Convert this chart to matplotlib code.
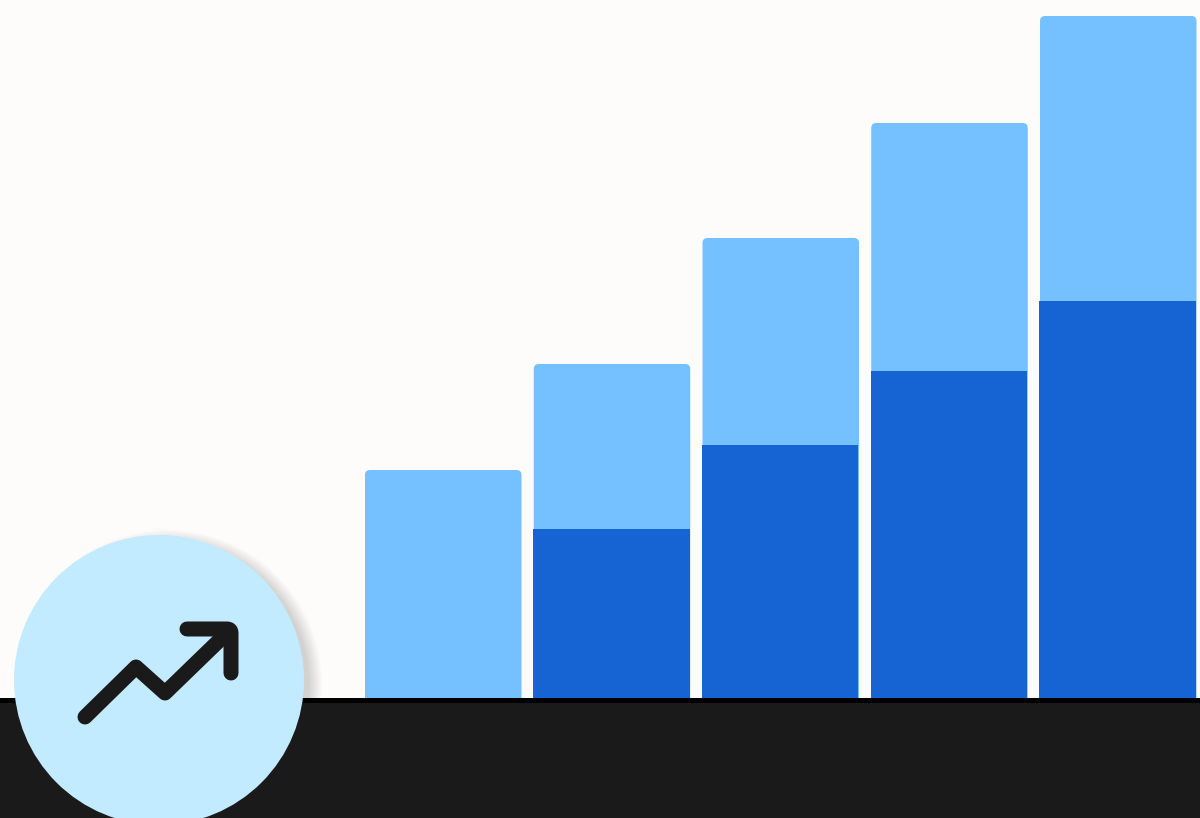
import matplotlib
matplotlib.use("Agg")
import matplotlib.pyplot as plt
from matplotlib.patches import Circle, FancyBboxPatch, PathPatch, Rectangle
from matplotlib.path import Path

# bar values (height above the baseline)
categories = [0, 1, 2, 3, 4]
total = [228, 334, 460, 575, 682]
lower = [0, 169, 253, 327, 397]

# trend icon, in image pixels
trend_x = [85, 136, 165, 229]
trend_y = [717, 667, 693, 631]

BG = "#fefcfa"
LIGHT = "#75c0ff"
DARK = "#1664d3"
CIRCLE = "#c2ebff"
INK = "#1a1a1a"

fig = plt.figure(figsize=(12, 8.18), dpi=100, facecolor=BG)

# shadow goes behind everything, in pixel coordinates
under = fig.add_axes([0, 0, 1, 1])
under.set_xlim(0, 1200)
under.set_ylim(818, 0)
under.axis("off")
for i in range(14):
    under.add_patch(Circle((168, 684), 141 + i, fc="#000000", ec="none", alpha=0.01))

ax = fig.add_axes([0, 0, 1, 1])
step = 168.75
ax.set_xlim(-443.25 / step, (1200 - 443.25) / step)
ax.set_ylim(-120, 698)
ax.axis("off")

bar_w = 156.5 / step
radius = 5 / step
for c, t in zip(categories, total):
    # rounded top, the bottom corners go under the band
    ax.add_patch(FancyBboxPatch((c - bar_w / 2 + radius, -20 + 5), bar_w - 2 * radius, t + 20 - 10,
                                boxstyle=f"round,pad={radius},rounding_size={radius}",
                                mutation_aspect=step, fc=LIGHT, ec="none", zorder=2))
ax.bar([c - 0.7 / step for c in categories[1:]], lower[1:], width=bar_w, color=DARK, linewidth=0, zorder=3)

# floor band
x0, x1 = ax.get_xlim()
ax.add_patch(Rectangle((x0, -120), x1 - x0, 120, fc=INK, ec="none", zorder=4))
ax.add_patch(Rectangle((x0, -5), x1 - x0, 5, fc="black", ec="none", zorder=5))

# badge on top, pixel coordinates again
over = fig.add_axes([0, 0, 1, 1])
over.set_xlim(0, 1200)
over.set_ylim(818, 0)
over.axis("off")
over.add_patch(Circle((159, 680), 145, fc=CIRCLE, ec="none", zorder=2))

lw = 15 * 72 / 100
over.plot(trend_x, trend_y, color=INK, lw=lw, solid_capstyle="round", solid_joinstyle="round", zorder=3)
head = Path([(187, 629), (227, 629), (231, 629), (231, 633), (231, 673)],
            [Path.MOVETO, Path.LINETO, Path.CURVE3, Path.CURVE3, Path.LINETO])
over.add_patch(PathPatch(head, fc="none", ec=INK, lw=lw, capstyle="round", joinstyle="round", zorder=3))

fig.savefig("out.png", dpi=100, facecolor=BG)
